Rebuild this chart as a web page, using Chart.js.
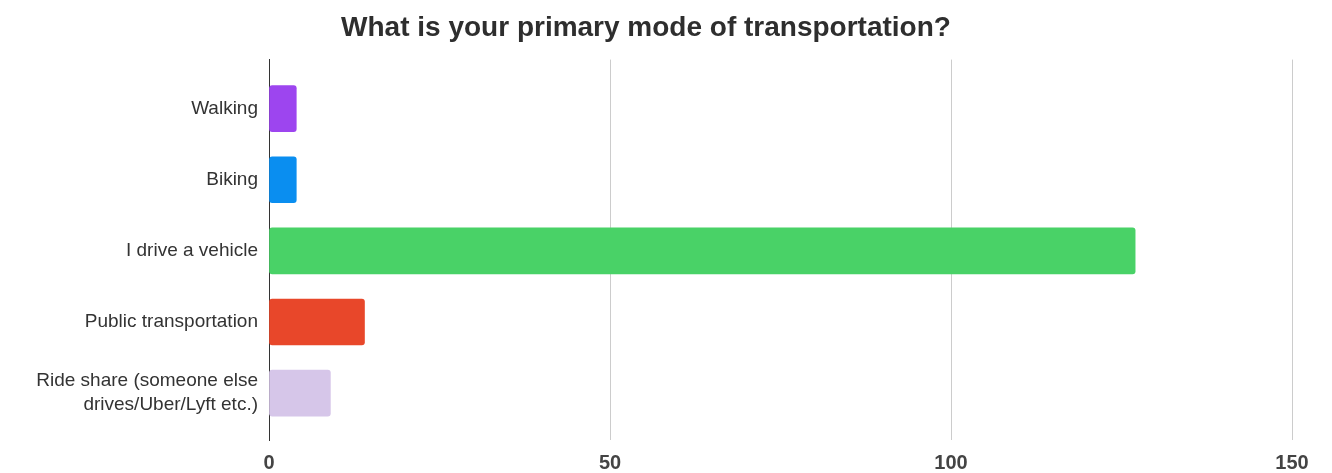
<!DOCTYPE html>
<html>
<head>
<meta charset="utf-8">
<script src="https://cdn.jsdelivr.net/npm/chart.js@4"></script>
<style>
  body { margin: 0; background: #fff; }
  #wrap { width: 1332px; height: 473px; }
</style>
</head>
<body>
<div id="wrap"><canvas id="modeChart" width="1332" height="473"></canvas></div>
<script>
const categories = [
  "Walking",
  "Biking",
  "I drive a vehicle",
  "Public transportation",
  ["Ride share (someone else", "drives/Uber/Lyft etc.)"],
];
const responses = [4, 4, 127, 14, 9];
const barColors = ["#9d45ef", "#0a8ef0", "#49d267", "#e8472a", "#d6c6e9"];
const xTicks = [0, 50, 100, 150];

const ctx = document.getElementById("modeChart");

new Chart(ctx, {
  type: "bar",
  data: {
    datasets: [
      {
        label: "Responses",
        data: responses.map((v, i) => ({ x: v, y: i })),
        backgroundColor: barColors,
        borderRadius: 3,
        borderSkipped: false,
        barThickness: 46,
      },
    ],
  },
  options: {
    indexAxis: "y",
    responsive: false,
    animation: false,
    layout: { padding: { left: 0, right: 40, top: 0, bottom: 0 } },
    plugins: {
      legend: { display: false },
      tooltip: { enabled: false },
      title: {
        display: true,
        text: "What is your primary mode of transportation?",
        color: "#2e2e2e",
        font: { family: "Liberation Sans", size: 28, weight: "bold" },
        padding: { top: 11, bottom: 15 },
      },
    },
    scales: {
      x: {
        type: "linear",
        min: xTicks[0],
        max: xTicks[xTicks.length - 1],
        afterBuildTicks: (scale) => {
          scale.ticks = xTicks.map((v) => ({ value: v }));
        },
        afterFit: (scale) => {
          scale.height = 33;
        },
        border: { display: false },
        grid: {
          drawTicks: false,
          color: (c) => (c.tick && c.tick.value === 0 ? "rgba(0,0,0,0)" : "#cccccc"),
          lineWidth: 1,
        },
        ticks: {
          padding: 11,
          color: "#444444",
          font: { family: "Liberation Sans", size: 20, weight: "bold" },
        },
      },
      y: {
        type: "linear",
        offset: false,
        reverse: true,
        min: -0.69,
        max: 4.66,
        afterFit: (scale) => {
          scale.width = 269;
        },
        border: { display: true, color: "#333333", width: 1 },
        grid: { display: false, drawTicks: false, offset: false },
        ticks: {
          stepSize: 1,
          autoSkip: false,
          padding: 11,
          color: "#333333",
          font: { family: "Liberation Sans", size: 19, lineHeight: 1.26 },
          callback: (value) => (Number.isInteger(value) ? categories[value] : ""),
        },
      },
    },
  },
});
</script>
</body>
</html>
